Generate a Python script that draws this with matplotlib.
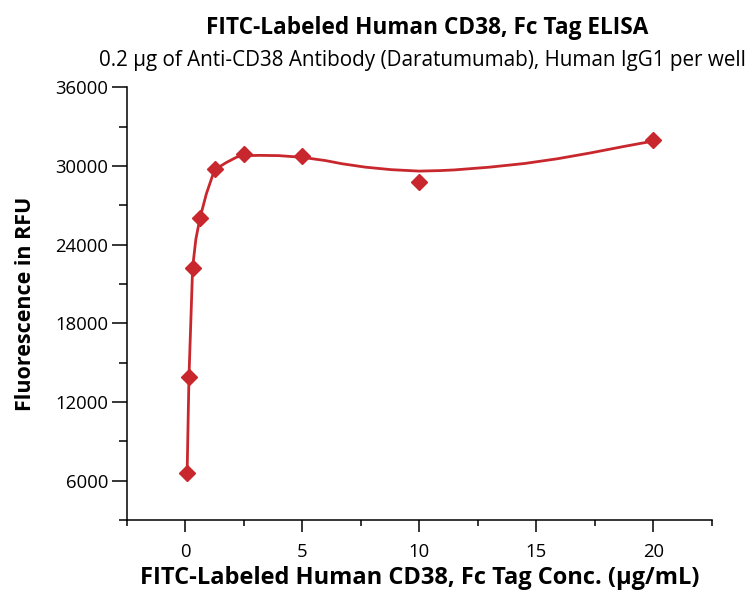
import numpy as np
import matplotlib.pyplot as plt
from matplotlib.ticker import MultipleLocator

plt.rcParams['font.family'] = ['Open Sans', 'DejaVu Sans']

# measured points (ug/mL, RFU)
conc = [0.078, 0.156, 0.3125, 0.625, 1.25, 2.5, 5, 10, 20]
rfu = [6590, 13880, 22230, 26010, 29750, 30870, 30720, 28760, 31940]

# fitted curve
fit_x = [0.078, 0.156, 0.3125, 0.45, 0.625, 0.9, 1.25, 1.75, 2.2, 2.5, 3.2,
         4.0, 5.0, 6.0, 6.7, 7.7, 8.8, 10.0, 10.9, 11.5, 13.0, 14.5, 15.9,
         17.3, 18.75, 20]
fit_y = [6590, 13880, 22230, 24400, 26000, 27870, 29700, 30250, 30670, 30780,
         30800, 30780, 30650, 30400, 30160, 29900, 29710, 29600, 29640, 29690,
         29900, 30180, 30540, 30980, 31480, 31890]

red = '#C8282D'

fig = plt.figure(figsize=(7.46, 5.97), dpi=100)
ax = fig.add_axes([0.170, 0.129, 0.784, 0.725])

ax.plot(fit_x, fit_y, color=red, lw=2, solid_joinstyle='round')
ax.plot(conc, rfu, 'D', color=red, ms=8, mec=red)

ax.set_xlim(-2.5, 22.5)
ax.set_ylim(3000, 36000)
ax.xaxis.set_major_locator(MultipleLocator(5))
ax.xaxis.set_minor_locator(MultipleLocator(2.5))
ax.yaxis.set_major_locator(MultipleLocator(6000))
ax.yaxis.set_minor_locator(MultipleLocator(3000))

for s in ['top', 'right']:
    ax.spines[s].set_visible(False)
for s in ['left', 'bottom']:
    ax.spines[s].set_linewidth(1.1)

ax.tick_params(axis='y', which='major', length=10.5, width=1.1, labelsize=13.3, pad=3)
ax.tick_params(axis='y', which='minor', length=5.5, width=1.1)
ax.tick_params(axis='x', which='major', length=8.5, width=1.1, labelsize=13.3, pad=8)
ax.tick_params(axis='x', which='minor', length=4, width=1.1)

ax.set_xlabel('FITC-Labeled Human CD38, Fc Tag Conc. (µg/mL)', fontsize=17, fontweight='bold')
ax.set_ylabel('Fluorescence in RFU', fontsize=15.5, fontweight='bold')
ax.xaxis.set_label_coords(0.5, -0.107)
ax.yaxis.set_label_coords(-0.155, 0.5)

fig.text(0.573, 0.953, 'FITC-Labeled Human CD38, Fc Tag ELISA', ha='center', va='center',
         fontsize=16.3, fontweight='bold')
fig.text(0.566, 0.899, '0.2 µg of Anti-CD38 Antibody (Daratumumab), Human IgG1 per well',
         ha='center', va='center', fontsize=14.9)

fig.savefig('out.png', dpi=100)
